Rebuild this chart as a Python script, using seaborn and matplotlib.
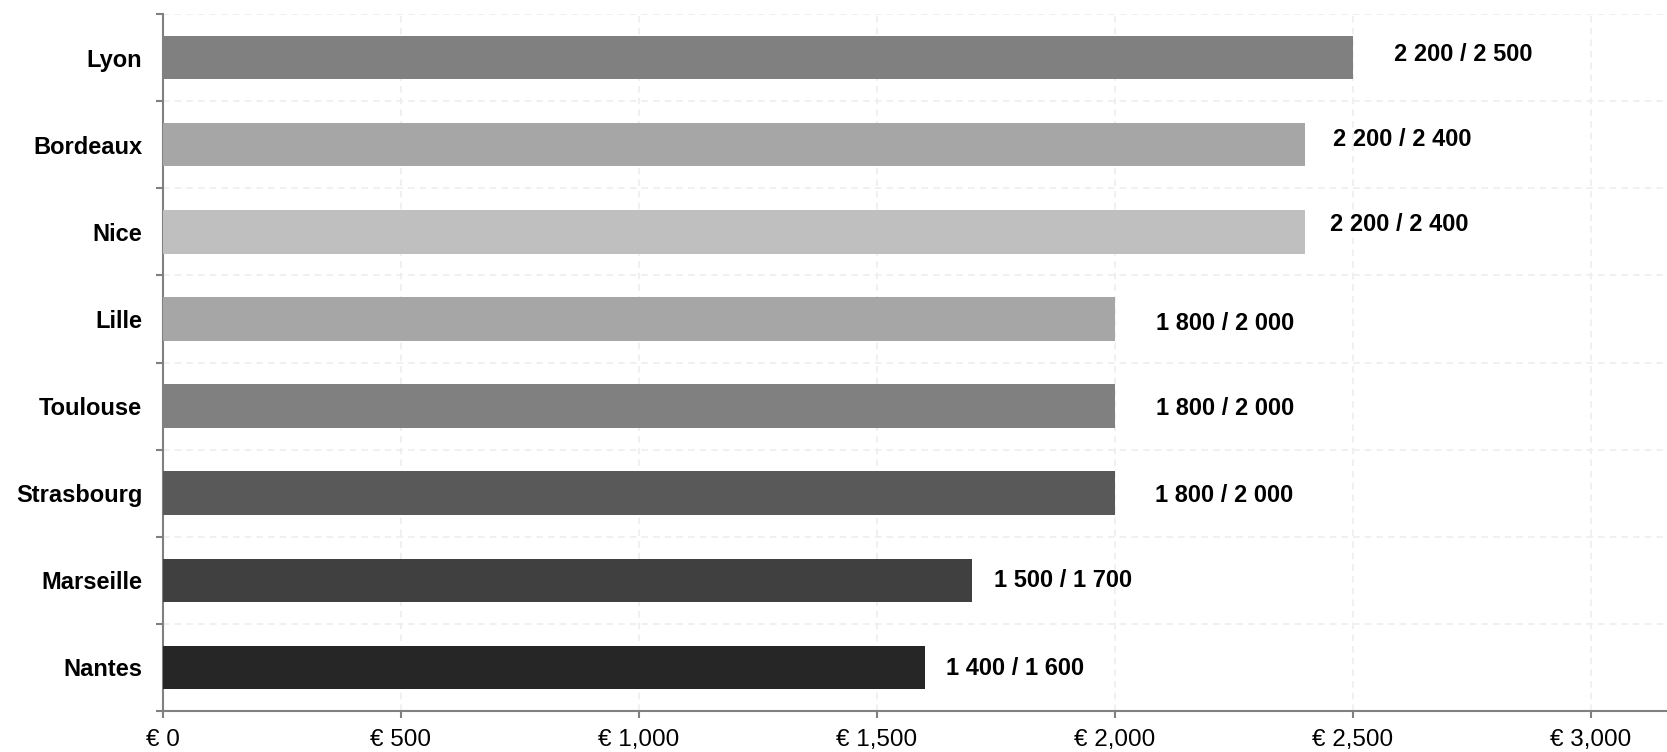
import matplotlib
matplotlib.use("Agg")
import matplotlib.pyplot as plt
import seaborn as sns
import pandas as pd
import numpy as np
from matplotlib.ticker import FixedLocator, FuncFormatter

cities = ["Lyon", "Bordeaux", "Nice", "Lille", "Toulouse", "Strasbourg", "Marseille", "Nantes"]
values = [2500, 2400, 2400, 2000, 2000, 2000, 1700, 1600]
labels = ["2 200 / 2 500", "2 200 / 2 400", "2 200 / 2 400", "1 800 / 2 000",
          "1 800 / 2 000", "1 800 / 2 000", "1 500 / 1 700", "1 400 / 1 600"]
colors = ["#808080", "#a6a6a6", "#bfbfbf", "#a6a6a6", "#808080", "#595959", "#404040", "#262626"]
label_dx = [231, 203, 197, 231, 231, 229, 191, 190]
label_dy = [-0.04, -0.06, -0.08, 0.05, 0.03, 0.03, 0.0, 0.01]
xticks = [0, 500, 1000, 1500, 2000, 2500, 3000]

sns.set_style("white")
plt.rcParams['font.family'] = ['Liberation Sans', 'DejaVu Sans']
plt.rcParams['text.color'] = 'black'
plt.rcParams['xtick.color'] = 'black'
plt.rcParams['ytick.color'] = 'black'

df = pd.DataFrame({"city": cities, "value": values})

fig = plt.figure(figsize=(16.67, 7.52), dpi=100)
ax = fig.add_axes([163 / 1667, 1 - 711 / 752, 1 - 163 / 1667, 697 / 752])

sns.barplot(data=df, y="city", x="value", hue="city", palette=colors,
            orient="h", width=0.5, legend=False, ax=ax, saturation=1,
            linewidth=0, zorder=3)

for i, (v, lab) in enumerate(zip(values, labels)):
    ax.text(v + label_dx[i], i + label_dy[i], lab, ha="center", va="center",
            fontsize=17, fontweight="bold", color="black", zorder=4)

ax.set_xlim(0, 3160)
ax.set_ylim(len(cities) - 0.5, -0.5)
ax.set_xlabel("")
ax.set_ylabel("")

ax.xaxis.set_major_locator(FixedLocator(xticks))
ax.xaxis.set_major_formatter(FuncFormatter(lambda x, p: "€ " + f"{int(x):,}"))
ax.yaxis.set_minor_locator(FixedLocator(np.arange(-0.5, len(cities), 1.0)))

for lab in ax.get_yticklabels():
    lab.set_fontweight("bold")
    lab.set_color("black")

ax.tick_params(axis="x", which="major", length=5, width=1.5, color="#808080",
               labelsize=17.5, pad=8, bottom=True, labelcolor="black")
ax.tick_params(axis="y", which="major", length=0, labelsize=17, pad=15, labelcolor="black")
ax.tick_params(axis="y", which="minor", length=5, width=1.5, color="#808080", left=True)

ax.grid(False)
ax.grid(axis="x", which="major", linestyle=(0, (4, 3)), color="#eeeeee", linewidth=1.2, zorder=0)
ax.grid(axis="y", which="minor", linestyle=(0, (4, 3)), color="#eeeeee", linewidth=1.2, zorder=0)
ax.set_axisbelow(True)

for s in ["top", "right"]:
    ax.spines[s].set_visible(False)
for s in ["left", "bottom"]:
    ax.spines[s].set_color("#808080")
    ax.spines[s].set_linewidth(1.5)

fig.savefig("out.png", dpi=100)
